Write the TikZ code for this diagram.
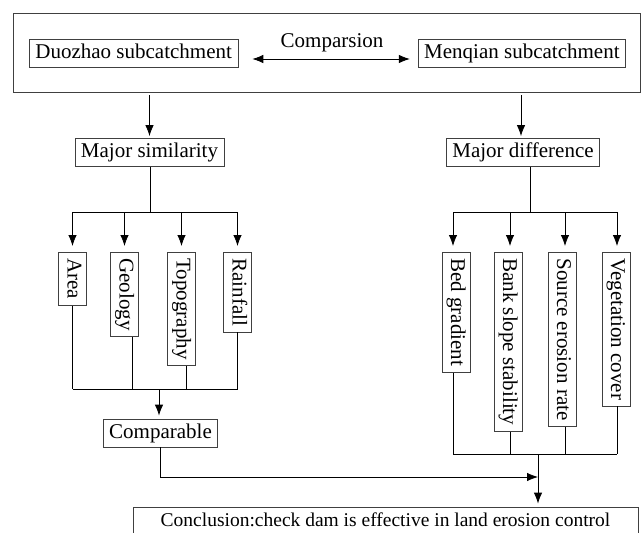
\documentclass[tikz,border=0pt]{standalone}
\usepackage{fontspec}
\setmainfont{Liberation Serif}
\usetikzlibrary{arrows.meta}

\begin{document}
\begin{tikzpicture}[x=1pt,y=-1pt,>={Latex[length=11pt,width=8.5pt]},
                    line width=0.8pt,
                    every node/.style={font=\fontsize{21}{25}\selectfont},
                    block/.style={draw=black!75,inner xsep=6pt,inner ysep=4.5pt,
                                  text height=14.5pt,text depth=4.5pt},
                    vblock/.style={block,rotate=-90,anchor=west}]
  \useasboundingbox (0,0) rectangle (641,533);
  \clip (0,0) rectangle (641,533);

  % the two subcatchments
  \node[draw=black!75,minimum width=627pt,minimum height=79pt] (study) at (326.5,52.5) {};
  \node[block,anchor=west] (duo) at (29,53) {Duozhao subcatchment};
  \node[block,anchor=east] (men) at (626,53) {Menqian subcatchment};
  \node (cmp) at (332,43) {Comparsion};
  \draw[<->] ([xshift=14pt,yshift=-6pt]duo.east) -- ([xshift=-8pt,yshift=-6pt]men.west);

  \node[block] (simil) at (149.5,152.5) {Major similarity};
  \node[block] (diff)  at (523,152.5)   {Major difference};
  \draw[->,shorten <=3pt,shorten >=2pt] (study.south -| simil) -- (simil.north);
  \draw[->,shorten <=3pt,shorten >=2pt] ([xshift=-2pt]study.south -| diff) -- ([xshift=-2pt]diff.north);

  % similarities
  \coordinate (ltop) at (150,212);
  \coordinate (lbot) at (159,389);
  \node[vblock] (area) at (72.5,252)  {Area};
  \node[vblock] (geo)  at (124.5,252) {Geology};
  \node[vblock] (topo) at (181.5,252) {Topography};
  \node[vblock] (rain) at (237.5,252) {Rainfall};

  \draw (simil.south -| ltop) -- (ltop);
  \draw (ltop -| area) -- (ltop -| rain);
  \foreach \n/\dx in {area/0,geo/7.5,topo/4.5,rain/0} {
    \draw[->,shorten >=6pt] (ltop -| \n) -- (\n.west);
    \draw ([xshift=\dx pt]\n.east) -- ([xshift=\dx pt]\n.east |- lbot);
  }
  \draw (area.east |- lbot) -- (rain.east |- lbot);

  \node[block] (compar) at (160.5,433) {Comparable};
  \draw[->,shorten >=3pt] (lbot) -- (lbot |- compar.north);

  % differences
  \coordinate (rtop) at (530,212);
  \coordinate (rbot) at (538,454);
  \node[vblock] (bed)  at (456,252) {Bed gradient};
  \node[vblock] (bank) at (508,252) {Bank slope stability};
  \node[vblock] (src)  at (562,252) {Source erosion rate};
  \node[vblock] (veg)  at (616,252) {Vegetation cover};

  \draw (diff.south -| rtop) -- (rtop);
  \draw ([xshift=-3pt]rtop -| bed) -- ([xshift=1pt]rtop -| veg);
  \foreach \n/\dx in {bed/-3,bank/2,src/3,veg/1} {
    \draw[->,shorten >=6pt] ([xshift=\dx pt]rtop -| \n) -- ([xshift=\dx pt]\n.west);
    \draw ([xshift=\dx pt]\n.east) -- ([xshift=\dx pt]\n.east |- rbot);
  }
  \draw ([xshift=-3pt]bed.east |- rbot) -- ([xshift=1pt]veg.east |- rbot);

  % conclusion
  \coordinate (meet) at (538,477);
  \node[block,minimum width=505pt,font=\fontsize{19.5}{23}\selectfont] (concl) at (385.5,521)
    {Conclusion:check dam is effective in land erosion control};
  \draw[->] (compar.south) |- (meet);
  \draw[->,shorten >=3pt] (rbot) -- (rbot |- concl.north);

\end{tikzpicture}
\end{document}
